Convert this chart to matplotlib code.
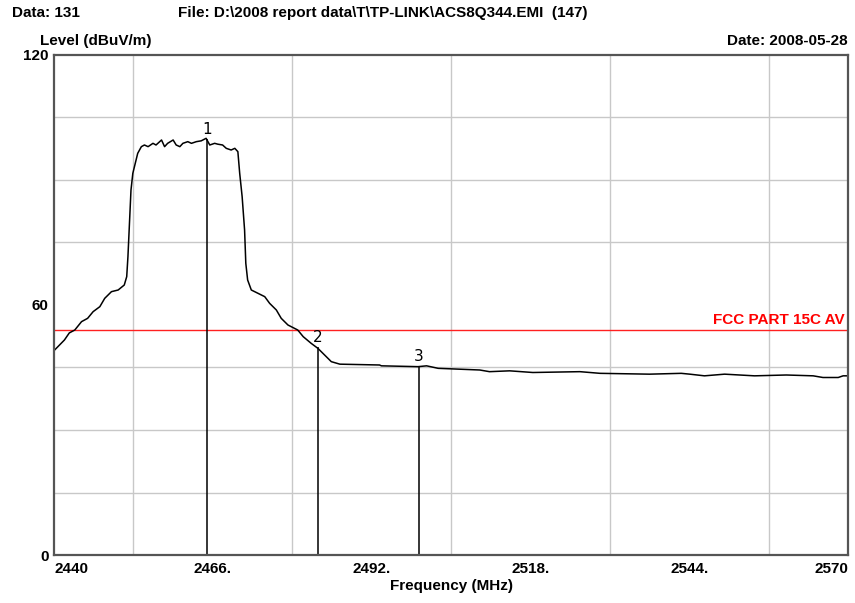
import matplotlib
matplotlib.use("Agg")
import matplotlib.pyplot as plt

# trace (MHz, dBuV/m)
freq = [2440.1, 2440.9, 2441.7, 2442.5, 2443.4, 2444.5, 2445.5, 2446.4, 2447.5,
        2448.3, 2449.4, 2450.5, 2451.5, 2451.9, 2452.1, 2452.4, 2452.6, 2452.9,
        2453.3, 2453.7, 2454.3, 2454.8, 2455.4, 2456.2, 2456.7, 2457.6, 2458.1,
        2458.6, 2459.5, 2460.0, 2460.6, 2461.1, 2461.9, 2462.5, 2463.3, 2464.1,
        2464.9, 2465.5, 2466.3, 2466.8, 2467.6, 2468.2, 2469.0, 2469.6, 2470.1,
        2470.4, 2470.8, 2471.2, 2471.4, 2471.7, 2472.3, 2473.4, 2474.5, 2475.3,
        2476.4, 2477.2, 2478.3, 2479.9, 2480.8, 2482.1, 2483.2, 2484.3, 2485.4,
        2486.8, 2493.3, 2493.6, 2499.6, 2501.0, 2502.9, 2509.7, 2511.3, 2514.6,
        2518.4, 2526.1, 2529.4, 2537.5, 2542.7, 2544.1, 2546.5, 2549.8, 2554.7,
        2559.9, 2564.3, 2565.9, 2568.4, 2569.2, 2570.0]
level = [49.2, 50.4, 51.6, 53.3, 54.0, 56.0, 56.8, 58.4, 59.6,
         61.6, 63.2, 63.6, 64.8, 66.8, 71.6, 81.2, 87.6, 91.6,
         94.0, 96.4, 98.0, 98.4, 98.0, 98.8, 98.4, 99.6, 98.0,
         98.8, 99.6, 98.4, 98.0, 98.8, 99.2, 98.8, 99.2, 99.4,
         100.0, 98.4, 98.8, 98.6, 98.4, 97.6, 97.2, 97.6, 96.8,
         91.6, 86.0, 78.0, 70.0, 66.0, 63.6, 62.8, 62.0, 60.4,
         58.8, 56.8, 55.2, 54.0, 52.4, 50.8, 49.6, 48.0, 46.4,
         45.8, 45.6, 45.4, 45.2, 45.4, 44.8, 44.4, 44.0, 44.2,
         43.8, 44.0, 43.6, 43.4, 43.6, 43.4, 43.0, 43.4, 43.0,
         43.2, 43.0, 42.6, 42.6, 43.0, 43.0]

marker_freq = [2465.1, 2483.2, 2499.7]
marker_level = [99.8, 49.9, 45.2]
marker_label = ["1", "2", "3"]

limit_level = 54.0
limit_label = "FCC PART 15C AV"

xticks = [2440, 2466, 2492, 2518, 2544, 2570]
xtick_labels = ["2440", "2466.", "2492.", "2518.", "2544.", "2570"]
yticks = [0, 60, 120]
xgrid = [2440 + 13 * i for i in range(11)]
ygrid = [15 * i for i in range(9)]

plt.rcParams["font.family"] = ["Liberation Sans", "DejaVu Sans"]

fig = plt.figure(figsize=(8.55, 6.03), dpi=100)
ax = fig.add_axes([0.0632, 0.0796, 0.9286, 0.8292])

ax.set_xlim(2440, 2570)
ax.set_ylim(0, 120)
ax.set_xticks(xgrid, minor=True)
ax.set_yticks(ygrid, minor=True)
ax.grid(True, which="minor", color="#c8c8c8", linewidth=1.0)
ax.set_axisbelow(True)

ax.set_xticks(xticks)
ax.set_xticklabels(xtick_labels, fontsize=11, fontweight="bold")
ax.set_yticks(yticks)
ax.set_yticklabels([str(v) for v in yticks], fontsize=11, fontweight="bold")
ax.tick_params(which="both", length=0)
ax.tick_params(axis="x", pad=5)
ax.tick_params(axis="y", pad=4)
xl = ax.get_xticklabels()
xl[0].set_horizontalalignment("left")
xl[-1].set_horizontalalignment("right")

for s in ax.spines.values():
    s.set_color("#555555")
    s.set_linewidth(1.6)

ax.axhline(limit_level, color="#ff2020", linewidth=1.0)
ax.text(2569.5, limit_level + 0.8, limit_label, color="#ff0000", fontsize=11,
        fontweight="bold", ha="right", va="bottom")

ax.plot(freq, level, color="black", linewidth=1.1)

for f, lv, lab in zip(marker_freq, marker_level, marker_label):
    ax.vlines(f, 0, lv, color="black", linewidth=1.1)
    ax.text(f, lv + 0.6, lab, fontsize=11, ha="center", va="bottom",
            family="DejaVu Sans")

fig.text(12 / 855, 1 - 13 / 603, "Data: 131", fontsize=11, fontweight="bold",
         va="center", ha="left")
fig.text(178 / 855, 1 - 13 / 603,
         "File: D:\\2008 report data\\T\\TP-LINK\\ACS8Q344.EMI  (147)",
         fontsize=11, fontweight="bold", va="center", ha="left")
fig.text(40 / 855, 1 - 41 / 603, "Level (dBuV/m)", fontsize=11,
         fontweight="bold", va="center", ha="left")
fig.text(848 / 855, 1 - 41 / 603, "Date: 2008-05-28", fontsize=11,
         fontweight="bold", va="center", ha="right")
ax.set_xlabel("Frequency (MHz)", fontsize=11, fontweight="bold", labelpad=2)

fig.savefig("out.png", dpi=100)
